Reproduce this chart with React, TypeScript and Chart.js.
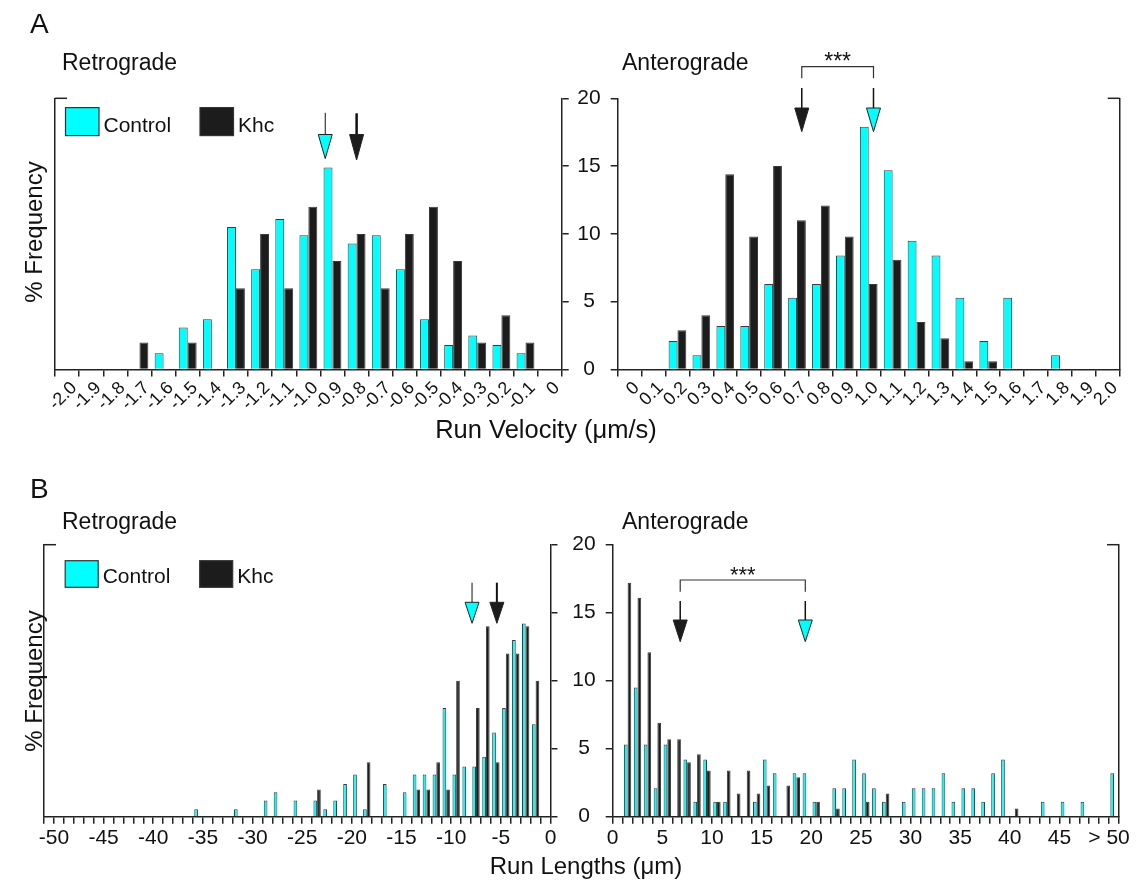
import React, { useEffect, useRef } from "react";
import { Chart, registerables } from "chart.js";

Chart.register(...registerables);

const FONT = "'Liberation Sans', Arial, Helvetica, sans-serif";
Chart.defaults.font.family = FONT;

const CYAN = "#00FFFF";
const KHC = "#1c1c1c";
const BAR_EDGE = "#3a3a3a";
const AXIS = "#222222";
const TEXT = "#111111";

// ---------- A: Run velocity (um/s), bins of 0.1 given by their lower edge ----------
const velRetroBins = [-2.1, -2.0, -1.9, -1.8, -1.7, -1.6, -1.5, -1.4, -1.3, -1.2, -1.1, -1.0, -0.9, -0.8, -0.7, -0.6, -0.5, -0.4, -0.3, -0.2, -0.1];
const velRetroControl = [0, 0, 0, 0, 1.2, 3.1, 3.7, 10.5, 7.4, 11.1, 9.9, 14.9, 9.3, 9.9, 7.4, 3.7, 1.8, 2.5, 1.8, 1.2, 0];
const velRetroKhc = [0, 0, 0, 2.0, 0, 2.0, 0, 6.0, 10.0, 6.0, 12.0, 8.0, 10.0, 6.0, 10.0, 12.0, 8.0, 2.0, 4.0, 2.0, 0];
const velRetroMeanControl = -0.98;
const velRetroMeanKhc = -0.85;

const velAnteroBins = [-0.1, 0.0, 0.1, 0.2, 0.3, 0.4, 0.5, 0.6, 0.7, 0.8, 0.9, 1.0, 1.1, 1.2, 1.3, 1.4, 1.5, 1.6, 1.7, 1.8, 1.9];
const velAnteroControl = [0, 0, 2.1, 1.05, 3.2, 3.2, 6.3, 5.3, 6.3, 8.4, 17.9, 14.7, 9.5, 8.4, 5.3, 2.1, 5.3, 0, 1.05, 0, 0];
const velAnteroKhc = [0, 0, 2.9, 4.0, 14.4, 9.8, 15.0, 11.0, 12.1, 9.8, 6.3, 8.1, 3.5, 2.3, 0.6, 0.6, 0, 0, 0, 0, 0];
const velAnteroMeanControl = 0.97;
const velAnteroMeanKhc = 0.67;

// ---------- B: Run lengths (um), bins of 1 given by their lower edge ----------
const lenRetroBins = [-36, -32, -29, -28, -26, -24, -23, -22, -21, -20, -19, -17, -15, -14, -13, -12, -11, -10, -9, -8, -7, -6, -5, -4, -3, -2];
const lenRetroControl = [0.55, 0.55, 1.2, 1.8, 1.2, 1.2, 0.55, 1.2, 2.4, 3.1, 0.55, 2.4, 1.8, 3.1, 3.1, 3.1, 8.0, 3.1, 3.7, 3.7, 4.4, 6.2, 8.0, 13.0, 14.2, 6.8];
const lenRetroKhc = [0, 0, 0, 0, 0, 2.0, 0, 0, 0, 0, 4.0, 0, 0, 2.0, 2.0, 4.0, 2.0, 10.0, 0, 8.0, 14.0, 4.0, 12.0, 12.0, 14.0, 10.0];
const lenRetroMeanControl = -7.9;
const lenRetroMeanKhc = -5.4;

const lenAnteroBins = [1, 2, 3, 4, 5, 6, 7, 8, 9, 10, 11, 12, 13, 14, 15, 16, 17, 18, 19, 20, 22, 23, 24, 25, 26, 27, 29, 30, 31, 32, 33, 34, 35, 36, 37, 38, 39, 40, 43, 45, 47, 50];
const lenAnteroControl = [5.3, 9.5, 5.3, 2.1, 5.3, 0, 4.2, 1.1, 4.2, 1.1, 1.1, 0, 0, 1.1, 4.2, 3.2, 0, 3.2, 3.2, 1.1, 2.1, 2.1, 4.2, 3.2, 2.1, 1.1, 1.1, 2.1, 2.1, 2.1, 3.2, 1.1, 2.1, 2.1, 1.1, 3.2, 4.2, 0, 1.1, 1.1, 1.1, 3.2];
const lenAnteroKhc = [17.2, 16.1, 12.1, 6.9, 5.7, 5.7, 4.0, 4.6, 3.4, 1.1, 3.4, 1.7, 3.4, 1.7, 2.3, 0, 2.3, 2.9, 0, 1.1, 0.6, 0, 0, 1.1, 0, 1.7, 0, 0, 0, 0, 0, 0, 0, 0, 0, 0, 0, 0.6, 0, 0, 0, 0];
const lenAnteroMeanControl = 19.4;
const lenAnteroMeanKhc = 6.8;

const freqTicks = { min: 0, max: 20, step: 5 };

type Arrow = { value: number; fill: string; lw: number; lineTop: number; triTop: number; tip: number };
type Spec = {
  left: number; top: number; width: number; height: number;
  pad: { left: number; right: number; top: number; bottom: number };
  xMin: number; xMax: number; step: number; binWidth: number;
  bins: number[]; control: number[]; khc: number[];
  label: (v: number) => string;
  rotate: boolean; xFont: number; xPad: number; xHeight: number; labelOffset: number;
  labeledLeft: boolean; yLeftWidth: number; yRightWidth: number;
  arrows: Arrow[];
  bracket?: { from: number; to: number; y: number; drop: number; font: number };
  legend?: { x: number; y: number; w: number; h: number; textY: number };
};

const near = (a: number, b: number) => Math.abs(a - b) < 1e-6;

const decorPlugin = {
  id: "decor",
  afterDraw(chart: any, _args: any, opts: any) {
    const spec: Spec = opts.spec;
    const { ctx, chartArea: a, scales } = chart;
    const xs = scales.x;
    ctx.save();
    // small inward stroke at the top of the outer frame line
    ctx.strokeStyle = AXIS;
    ctx.lineWidth = 1.5;
    ctx.beginPath();
    if (spec.labeledLeft) {
      ctx.moveTo(a.right - 12, a.top);
      ctx.lineTo(a.right, a.top);
    } else {
      ctx.moveTo(a.left, a.top);
      ctx.lineTo(a.left + 12, a.top);
    }
    ctx.stroke();

    // mean arrows
    for (const ar of spec.arrows) {
      const px = xs.getPixelForValue(ar.value);
      const y0 = a.top + ar.lineTop;
      const y1 = a.top + ar.triTop;
      const y2 = a.top + ar.tip;
      ctx.strokeStyle = "#111";
      ctx.lineWidth = ar.lw;
      ctx.beginPath();
      ctx.moveTo(px, y0);
      ctx.lineTo(px, y1 + 1);
      ctx.stroke();
      ctx.beginPath();
      ctx.moveTo(px - 7, y1);
      ctx.lineTo(px + 7, y1);
      ctx.lineTo(px, y2);
      ctx.closePath();
      ctx.fillStyle = ar.fill;
      ctx.fill();
      ctx.lineWidth = 1;
      ctx.strokeStyle = "#222";
      ctx.stroke();
    }

    // significance bracket
    if (spec.bracket) {
      const b = spec.bracket;
      const x1 = xs.getPixelForValue(b.from);
      const x2 = xs.getPixelForValue(b.to);
      const y = a.top + b.y;
      ctx.strokeStyle = "#333";
      ctx.lineWidth = 1.2;
      ctx.beginPath();
      ctx.moveTo(x1, y + b.drop);
      ctx.lineTo(x1, y);
      ctx.lineTo(x2, y);
      ctx.lineTo(x2, y + b.drop);
      ctx.stroke();
      ctx.fillStyle = TEXT;
      ctx.font = `${b.font}px ${FONT}`;
      ctx.textAlign = "center";
      ctx.textBaseline = "alphabetic";
      ctx.fillText("***", (x1 + x2) / 2, y + 2);
    }

    // legend (page coordinates converted to canvas coordinates)
    if (spec.legend) {
      const L = spec.legend;
      const ox = spec.left;
      const oy = spec.top;
      const items = [
        { label: "Control", fill: CYAN, dx: 0 },
        { label: "Khc", fill: KHC, dx: 134.5 },
      ];
      for (const it of items) {
        const bx = L.x + it.dx - ox;
        const by = L.y - oy;
        ctx.fillStyle = it.fill;
        ctx.fillRect(bx, by, L.w, L.h);
        ctx.strokeStyle = "#333";
        ctx.lineWidth = 1.2;
        ctx.strokeRect(bx, by, L.w, L.h);
        ctx.fillStyle = TEXT;
        ctx.font = `21px ${FONT}`;
        ctx.textAlign = "left";
        ctx.textBaseline = "alphabetic";
        ctx.fillText(it.label, bx + L.w + 4.5, L.textY - oy);
      }
    }
    ctx.restore();
  },
};

function buildConfig(p: Spec): any {
  const half = p.binWidth / 2;
  const pts = (vals: number[]) =>
    p.bins
      .map((b, i) => ({ x: Math.round((b + half) * 1000) / 1000, y: vals[i] }))
      .filter((d) => d.y > 0);
  const common = {
    borderColor: BAR_EDGE,
    borderWidth: 1,
    categoryPercentage: 0.74,
    barPercentage: 1.0,
    xAxisID: "x",
    yAxisID: "y",
  };
  return {
    type: "bar",
    data: {
      datasets: [
        { label: "Control", data: pts(p.control), backgroundColor: CYAN, ...common },
        { label: "Khc", data: pts(p.khc), backgroundColor: KHC, ...common },
      ],
    },
    plugins: [decorPlugin],
    options: {
      animation: false,
      responsive: false,
      maintainAspectRatio: false,
      events: [],
      layout: { padding: p.pad },
      plugins: {
        legend: { display: false },
        tooltip: { enabled: false },
        decor: { spec: p },
      },
      scales: {
        x: {
          type: "linear",
          min: p.xMin,
          max: p.xMax,
          offset: false,
          ticks: {
            stepSize: p.step,
            autoSkip: false,
            maxRotation: p.rotate ? 45 : 0,
            minRotation: p.rotate ? 45 : 0,
            callback: (v: any) => p.label(Number(v)),
            font: { size: p.xFont },
            color: TEXT,
            padding: p.xPad,
            labelOffset: p.labelOffset,
          },
          grid: { display: true, drawOnChartArea: false, drawTicks: true, tickLength: 7, color: AXIS, lineWidth: 1.5, offset: false },
          border: { display: true, color: AXIS, width: 1.5 },
          afterFit: (s: any) => {
            s.height = p.xHeight;
          },
        },
        y: {
          type: "linear",
          position: p.labeledLeft ? "left" : "right",
          min: freqTicks.min,
          max: freqTicks.max,
          ticks: {
            stepSize: freqTicks.step,
            display: p.labeledLeft,
            crossAlign: "center",
            padding: 10,
            font: { size: 21 },
            color: TEXT,
          },
          grid: { display: true, drawOnChartArea: false, drawTicks: true, tickLength: 7, color: AXIS, lineWidth: 1.5 },
          border: { display: true, color: AXIS, width: 1.5 },
          afterFit: (s: any) => {
            s.width = p.labeledLeft ? p.yLeftWidth : p.yRightWidth;
          },
        },
        y2: {
          type: "linear",
          position: p.labeledLeft ? "right" : "left",
          min: freqTicks.min,
          max: freqTicks.max,
          ticks: { display: false, stepSize: freqTicks.step },
          grid: { display: true, drawOnChartArea: false, drawTicks: false, color: AXIS, lineWidth: 1.5 },
          border: { display: true, color: AXIS, width: 1.5 },
          afterFit: (s: any) => {
            s.width = p.labeledLeft ? p.yRightWidth : p.yLeftWidth;
          },
        },
      },
    },
  };
}

const velLabel = (first: number) => (v: number) => (near(v, first) ? "" : near(v, 0) ? "0" : v.toFixed(1));
const lenRetroLabel = (v: number) => {
  const r = Math.round(v);
  return r >= -50 && r % 5 === 0 ? String(Math.abs(r) === 0 ? 0 : r) : "";
};
const lenAnteroLabel = (v: number) => {
  const r = Math.round(v);
  if (r === 50) return "> 50";
  return r < 50 && r % 5 === 0 ? String(r) : "";
};

const specs: Spec[] = [
  {
    left: 0, top: 0, width: 600, height: 440,
    pad: { left: 35, right: 18.3, top: 98.3, bottom: 10.5 },
    xMin: -2.1, xMax: 0, step: 0.1, binWidth: 0.1,
    bins: velRetroBins, control: velRetroControl, khc: velRetroKhc,
    label: velLabel(-2.1), rotate: true, xFont: 18, xPad: 1, xHeight: 60, labelOffset: -5,
    labeledLeft: false, yLeftWidth: 20, yRightWidth: 20,
    arrows: [
      { value: velRetroMeanControl, fill: CYAN, lw: 1, lineTop: 14.5, triTop: 36.2, tip: 60.3 },
      { value: velRetroMeanKhc, fill: KHC, lw: 2.5, lineTop: 15, triTop: 36.2, tip: 61.7 },
    ],
    legend: { x: 65.5, y: 107.6, w: 33.5, h: 28, textY: 131.5 },
  },
  {
    left: 560, top: 0, width: 576, height: 440,
    pad: { left: 7.7, right: 2.7, top: 98.3, bottom: 10.5 },
    xMin: -0.1, xMax: 2.0, step: 0.1, binWidth: 0.1,
    bins: velAnteroBins, control: velAnteroControl, khc: velAnteroKhc,
    label: velLabel(-0.1), rotate: true, xFont: 18, xPad: 1, xHeight: 60, labelOffset: -5,
    labeledLeft: true, yLeftWidth: 50, yRightWidth: 10,
    arrows: [
      { value: velAnteroMeanKhc, fill: KHC, lw: 1.5, lineTop: -10.3, triTop: 9.7, tip: 33.4 },
      { value: velAnteroMeanControl, fill: CYAN, lw: 1.5, lineTop: -10.3, triTop: 9.7, tip: 33.4 },
    ],
    bracket: { from: velAnteroMeanKhc, to: velAnteroMeanControl, y: -31.6, drop: 11.6, font: 23 },
  },
  {
    left: 0, top: 450, width: 600, height: 435,
    pad: { left: 24, right: 29.5, top: 94.7, bottom: 18.3 },
    xMin: -51, xMax: 0, step: 1, binWidth: 1,
    bins: lenRetroBins, control: lenRetroControl, khc: lenRetroKhc,
    label: lenRetroLabel, rotate: false, xFont: 21, xPad: 2, xHeight: 50, labelOffset: 0,
    labeledLeft: false, yLeftWidth: 20, yRightWidth: 20,
    arrows: [
      { value: lenRetroMeanControl, fill: CYAN, lw: 1, lineTop: 38, triTop: 57.6, tip: 78.6 },
      { value: lenRetroMeanKhc, fill: KHC, lw: 2, lineTop: 38, triTop: 57.6, tip: 78.6 },
    ],
    legend: { x: 65.2, y: 560.7, w: 33, h: 26.6, textY: 582.5 },
  },
  {
    left: 560, top: 450, width: 576, height: 435,
    pad: { left: 8.7, right: 7, top: 94.7, bottom: 18.3 },
    xMin: 0, xMax: 51, step: 1, binWidth: 1,
    bins: lenAnteroBins, control: lenAnteroControl, khc: lenAnteroKhc,
    label: lenAnteroLabel, rotate: false, xFont: 21, xPad: 2, xHeight: 50, labelOffset: 0,
    labeledLeft: true, yLeftWidth: 44, yRightWidth: 10,
    arrows: [
      { value: lenAnteroMeanKhc, fill: KHC, lw: 1.5, lineTop: 56.3, triTop: 75.3, tip: 97 },
      { value: lenAnteroMeanControl, fill: CYAN, lw: 1.5, lineTop: 56.3, triTop: 75.3, tip: 97 },
    ],
    bracket: { from: lenAnteroMeanKhc, to: lenAnteroMeanControl, y: 35.3, drop: 11.7, font: 22 },
  },
];

function Panel({ spec }: { spec: Spec }) {
  const ref = useRef<HTMLCanvasElement>(null);
  useEffect(() => {
    const chart = new Chart(ref.current as HTMLCanvasElement, buildConfig(spec));
    return () => chart.destroy();
  }, [spec]);
  return (
    <canvas
      ref={ref}
      width={spec.width}
      height={spec.height}
      style={{ position: "absolute", left: spec.left, top: spec.top, width: spec.width, height: spec.height }}
    />
  );
}

type Txt = { text: string; x: number; y: number; size: number; center?: boolean; rotate?: boolean };
const texts: Txt[] = [
  { text: "A", x: 30, y: 9.5, size: 28 },
  { text: "B", x: 30, y: 475, size: 28 },
  { text: "Retrograde", x: 62, y: 51, size: 23 },
  { text: "Anterograde", x: 622, y: 51, size: 23 },
  { text: "Retrograde", x: 62, y: 510, size: 23 },
  { text: "Anterograde", x: 622, y: 510, size: 23 },
  { text: "% Frequency", x: 34, y: 232, size: 24, rotate: true },
  { text: "% Frequency", x: 34, y: 681, size: 24, rotate: true },
  { text: "Run Velocity (\u03bcm/s)", x: 546, y: 417, size: 25.5, center: true },
  { text: "Run Lengths (\u03bcm)", x: 586, y: 854, size: 24, center: true },
];

export default function App() {
  return (
    <div
      style={{
        position: "fixed",
        left: 0,
        top: 0,
        width: 1136,
        height: 885,
        background: "#ffffff",
        overflow: "hidden",
        fontFamily: FONT,
        color: TEXT,
      }}
    >
      {specs.map((s, i) => (
        <Panel key={i} spec={s} />
      ))}
      {texts.map((t, i) => (
        <div
          key={"t" + i}
          style={{
            position: "absolute",
            left: t.x,
            top: t.y,
            fontSize: t.size,
            lineHeight: 1,
            whiteSpace: "nowrap",
            transform: t.rotate
              ? "translate(-50%, -50%) rotate(-90deg)"
              : t.center
              ? "translateX(-50%)"
              : undefined,
          }}
        >
          {t.text}
        </div>
      ))}
    </div>
  );
}
